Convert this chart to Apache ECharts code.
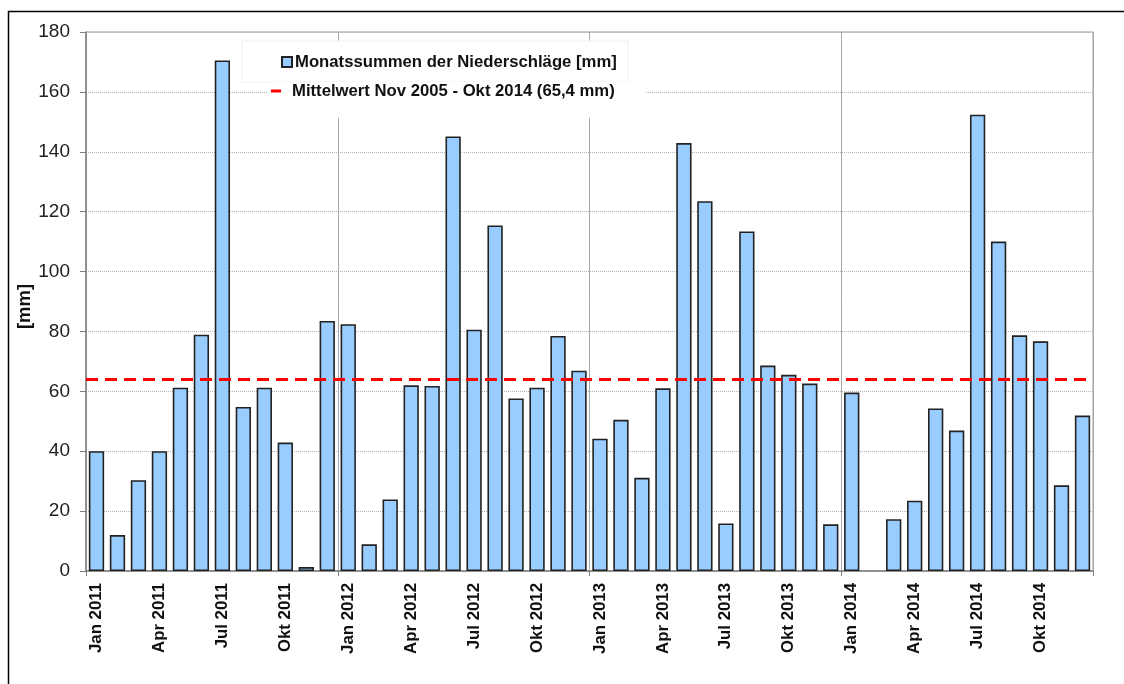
<!DOCTYPE html>
<html>
<head>
<meta charset="utf-8">
<script src="https://cdn.jsdelivr.net/npm/echarts@6/dist/echarts.min.js"></script>
<style>
html,body{margin:0;padding:0;background:#fff;}
#chart{width:1124px;height:684px;}
</style>
</head>
<body>
<div id="chart"></div>
<script>
const monthNames = ['Jan','Feb','Mrz','Apr','Mai','Jun','Jul','Aug','Sep','Okt','Nov','Dez'];
const years = [2011, 2012, 2013, 2014];
const categories = [];
years.forEach(y => monthNames.forEach(m => categories.push(m + ' ' + y)));

const precip2011 = [40.0, 12.0, 30.3, 40.0, 61.2, 78.9, 170.5, 54.8, 61.2, 42.9, 1.3, 83.5];
const precip2012 = [82.4, 8.9, 23.9, 62.0, 61.8, 145.1, 80.6, 115.4, 57.6, 61.2, 78.5, 66.9];
const precip2013 = [44.2, 50.5, 31.1, 61.0, 142.9, 123.5, 15.9, 113.4, 68.6, 65.5, 62.6, 15.6];
const precip2014 = [59.6, null, 17.3, 23.5, 54.3, 46.9, 152.4, 110.0, 78.7, 76.7, 28.6, 51.9];
const precipValues = [].concat(precip2011, precip2012, precip2013, precip2014);

const meanLineValue = 64;
const barName = 'Monatssummen der Niederschläge [mm]';
const meanName = 'Mittelwert Nov 2005 - Okt 2014 (65,4 mm)';
const yTicks = {min: 0, max: 180, interval: 20};

const FONT = '"Liberation Sans", Arial, sans-serif';
const chart = echarts.init(document.getElementById('chart'));
chart.setOption({
  backgroundColor: '#ffffff',
  animation: false,
  textStyle: {fontFamily: FONT},
  graphic: [
    {type: 'rect', z: 0, silent: true,
     shape: {x: 8.5, y: 11.5, width: 1300, height: 900},
     style: {fill: 'none', stroke: '#000', lineWidth: 1.5}},
    {type: 'rect', z: 5, silent: true,
     shape: {x: 242, y: 41, width: 386, height: 41},
     style: {fill: '#fff', stroke: '#f0f0f0', lineWidth: 1}},
    {type: 'rect', z: 5, silent: true,
     shape: {x: 268, y: 82, width: 377, height: 36},
     style: {fill: '#fff', stroke: 'none'}}
  ],
  legend: [
    {
      z: 10, left: 281, top: 53, padding: 0,
      itemWidth: 10, itemHeight: 10,
      data: [{name: barName, icon: 'rect'}],
      textStyle: {fontFamily: FONT, fontSize: 16.7, fontWeight: 'bold', color: '#111', lineHeight: 18, padding: [0,0,0,-2]}
    },
    {
      z: 10, left: 271, top: 82, padding: 0,
      itemWidth: 18, itemHeight: 3,
      data: [{name: meanName,
              icon: 'path://M0,0 H10 V3 H0 Z M17.9,1 H18 V2 H17.9 Z',
              itemStyle: {color: '#ff0000', borderWidth: 0}}],
      textStyle: {fontFamily: FONT, fontSize: 16.7, fontWeight: 'bold', color: '#111', lineHeight: 18, padding: [0,0,0,-2]}
    }
  ],
  grid: {left: 86, right: 31, top: 32, bottom: 113, show: true, borderColor: '#9a9a9a', borderWidth: 1},
  xAxis: {
    type: 'category',
    data: categories,
    boundaryGap: true,
    axisLine: {lineStyle: {color: '#808080', width: 1.5}},
    axisTick: {show: true, interval: 11, length: 5, lineStyle: {color: '#808080'}},
    splitLine: {show: true, interval: 11, lineStyle: {color: '#a8a8a8', width: 1}},
    axisLabel: {
      interval: 2, rotate: 90, margin: 12,
      fontFamily: FONT, fontSize: 16.8, fontWeight: 'bold', color: '#111'
    }
  },
  yAxis: {
    type: 'value',
    min: yTicks.min, max: yTicks.max, interval: yTicks.interval,
    name: '[mm]', nameLocation: 'middle', nameGap: 52, nameRotate: 90,
    nameMoveOverlap: false,
    nameTextStyle: {fontFamily: FONT, fontSize: 18.5, fontWeight: 'bold', color: '#111', padding: [0, 10, 0, 0]},
    axisLine: {show: true, lineStyle: {color: '#808080', width: 1.5}},
    axisTick: {show: true, length: 6, lineStyle: {color: '#808080'}},
    axisLabel: {margin: 16, fontFamily: FONT, fontSize: 19, color: '#222'},
    splitLine: {show: true, lineStyle: {color: '#b4b4b4', type: 'dotted', width: 1}}
  },
  series: [
    {
      name: barName,
      type: 'bar',
      data: precipValues,
      barCategoryGap: '27%',
      itemStyle: {color: '#99ccff', borderColor: '#222', borderWidth: 1.6},
      z: 2
    },
    {
      name: meanName,
      type: 'line',
      data: [],
      itemStyle: {color: '#ff0000'},
      lineStyle: {color: '#ff0000'},
      markLine: {
        silent: true,
        symbol: ['none', 'none'],
        label: {show: false},
        lineStyle: {color: '#ff0000', width: 3, type: [12, 7]},
        data: [{yAxis: meanLineValue}]
      },
      z: 4
    }
  ]
});
</script>
</body>
</html>
